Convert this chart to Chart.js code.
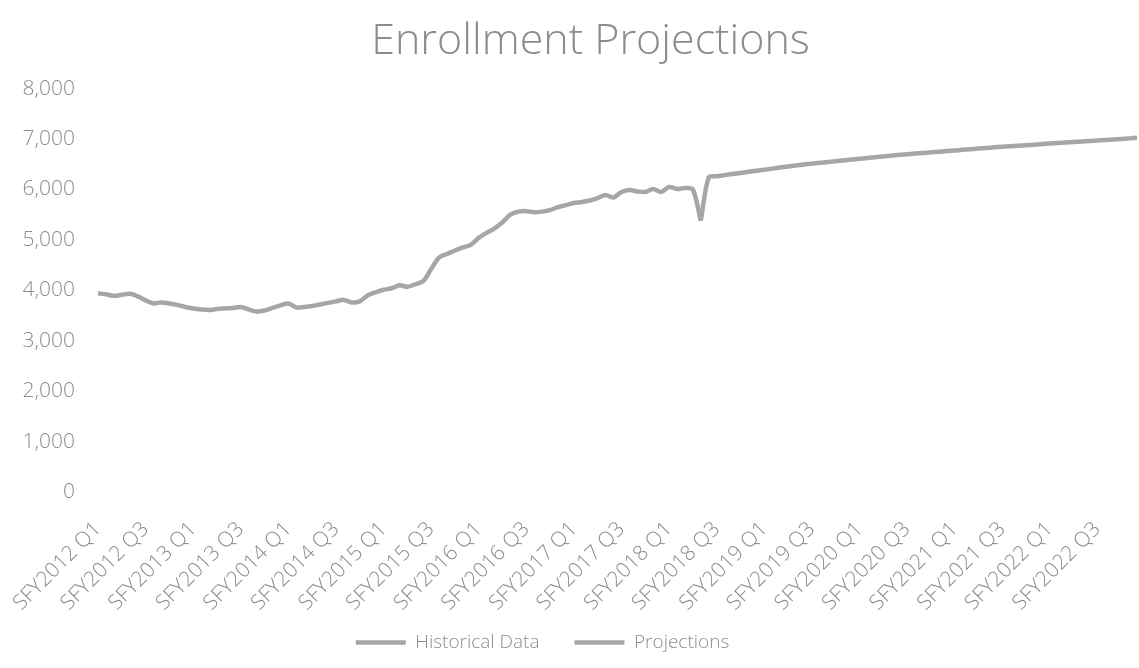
<!DOCTYPE html>
<html>
<head>
<meta charset="utf-8">
<script src="https://cdn.jsdelivr.net/npm/chart.js@4.4.1/dist/chart.umd.min.js"></script>
<style>
  body { margin: 0; background: #fff; }
  #wrap { width: 1139px; height: 668px; }
</style>
</head>
<body>
<div id="wrap"><canvas id="enrollChart"></canvas></div>
<script>
// State fiscal years and quarters on the category axis (monthly points, 3 per quarter)
const fiscalYears = [2012, 2013, 2014, 2015, 2016, 2017, 2018, 2019, 2020, 2021, 2022];
const quarters = ["Q1", "Q2", "Q3", "Q4"];

// Monthly enrollment
const historical = [
  3940, 3920, 3890, 3910, 3930, 3880, 3800, 3740, 3760, 3740, 3710, 3670,
  3640, 3620, 3610, 3630, 3640, 3650, 3670, 3620, 3580, 3600, 3650, 3700,
  3740, 3660, 3670, 3690, 3720, 3750, 3780, 3810, 3760, 3780, 3900, 3960,
  4010, 4040, 4100, 4070, 4120, 4180, 4420, 4650, 4720, 4790, 4850, 4900,
  5040, 5140, 5230, 5350, 5500, 5560, 5570, 5550, 5560, 5590, 5650, 5690,
  5730, 5750, 5780, 5830, 5890, 5840, 5950, 5990, 5960, 5950, 6010, 5950,
  6050, 6010, 6030, 6000, 5380
];

// Projections start from the last historical month
const projections = [
  5380,
  6240, 6262, 6284, 6305, 6327, 6349, 6370, 6392, 6413, 6435, 6456,
  6477, 6496, 6512, 6528, 6544, 6560, 6576, 6592, 6608, 6624, 6640,
  6655, 6670, 6686, 6698, 6711, 6723, 6736, 6748, 6761, 6773, 6786,
  6798, 6810, 6823, 6835, 6847, 6857, 6868, 6878, 6888, 6899, 6909,
  6919, 6930, 6940, 6950, 6961, 6971, 6981, 6992, 7002, 7013, 7024
];

// Build monthly labels: each month carries its quarter's label
const labels = [];
fiscalYears.forEach(y => {
  quarters.forEach(q => {
    for (let m = 0; m < 3; m++) labels.push(`SFY${y} ${q}`);
  });
});

const histData = labels.map((_, i) => i < historical.length ? historical[i] : null);
const projStart = historical.length - 1;
const projData = labels.map((_, i) => i >= projStart && i - projStart < projections.length ? projections[i - projStart] : null);

const gray = "#a6a6a6";
const textGray = "#8c8c8c";
const font = "'Open Sans', 'Noto Sans', sans-serif";

// Excel puts the title a bit right of centre and the legend a bit left
const nudge = {
  id: "nudge",
  afterLayout(chart) {
    const t = chart.titleBlock;
    t.left += 22; t.right += 22;
    const lg = chart.legend;
    lg.left -= 26; lg.right -= 26;
    lg.top -= 24; // keep bottom where it is so the text isn't clipped
  }
};

const ctx = document.getElementById("enrollChart").getContext("2d");
new Chart(ctx, {
  type: "line",
  data: {
    labels: labels,
    datasets: [
      {
        label: "Historical Data",
        data: histData,
        borderColor: gray,
        backgroundColor: gray,
        borderWidth: 4.5,
        pointRadius: 0,
        tension: 0.3
      },
      {
        label: "Projections",
        data: projData,
        borderColor: gray,
        backgroundColor: gray,
        borderWidth: 4.5,
        pointRadius: 0,
        tension: 0.3
      }
    ]
  },
  plugins: [nudge],
  options: {
    responsive: true,
    maintainAspectRatio: false,
    animation: false,
    layout: { padding: { left: 0, right: 2, top: 16, bottom: 0 } },
    plugins: {
      title: {
        display: true,
        text: "Enrollment Projections",
        color: textGray,
        font: { family: font, size: 43, weight: 300 },
        padding: { top: 0, bottom: 21 }
      },
      legend: {
        position: "bottom",
        maxHeight: 46,
        labels: {
          color: textGray,
          font: { family: font, size: 19, weight: 300 },
          usePointStyle: true,
          pointStyle: "line",
          pointStyleWidth: 50,
          padding: 35
        }
      },
      tooltip: { enabled: false }
    },
    scales: {
      x: {
        grid: { display: false, drawTicks: false },
        border: { display: false },
        afterFit: s => { s.paddingLeft = 0; s.paddingRight = 0; s.height = 130; },
        ticks: {
          autoSkip: false,
          minRotation: 45,
          maxRotation: 45,
          color: textGray,
          font: { family: font, size: 21, weight: 300 },
          padding: 25,
          callback: function (val, index) {
            return index % 6 === 0 ? this.getLabelForValue(val) : "";
          }
        }
      },
      y: {
        min: 0,
        max: 8000,
        grid: { display: false, drawTicks: false },
        border: { display: false },
        afterFit: s => { s.width = 98; },
        ticks: {
          stepSize: 1000,
          color: textGray,
          font: { family: font, size: 21, weight: 300 },
          padding: 23,
          callback: v => v.toLocaleString("en-US")
        }
      }
    }
  }
});
</script>
</body>
</html>
